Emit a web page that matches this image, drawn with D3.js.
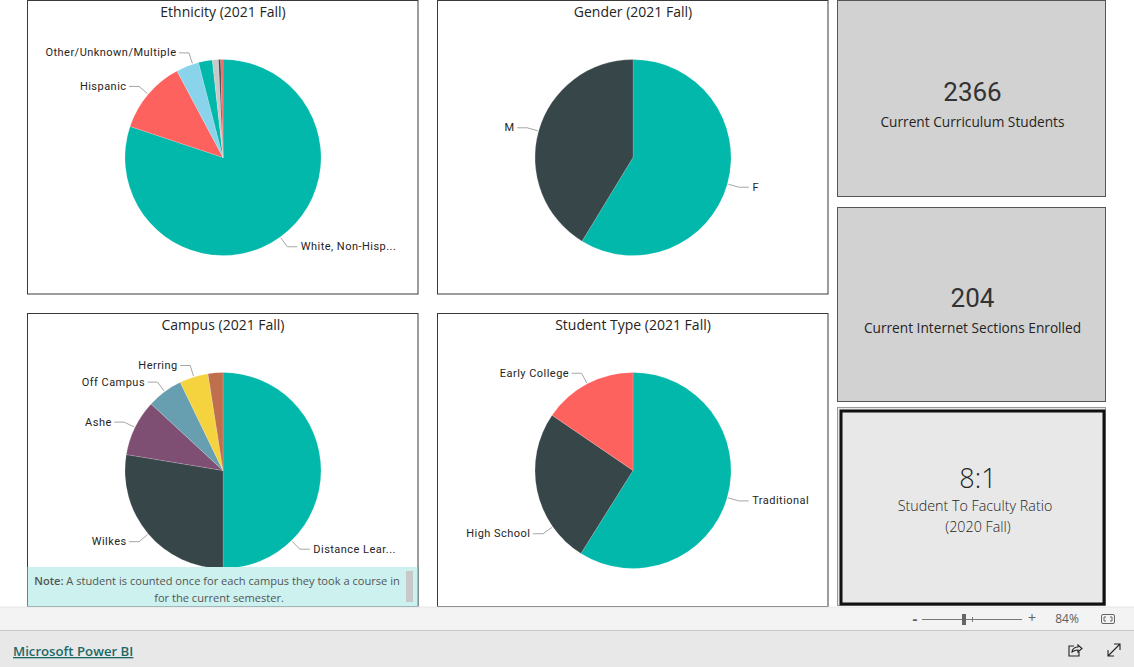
<!DOCTYPE html>
<html>
<head>
<meta charset="utf-8">
<script src="https://cdn.jsdelivr.net/npm/d3@7"></script>
<style>
  html, body { margin: 0; padding: 0; background: #fff; overflow: hidden; }
  svg { display: block; }
  .title { font: 14px "Open Sans", sans-serif; fill: #252423; text-anchor: middle; }
  .label { font: 11px Roboto, sans-serif; letter-spacing: 0.47px; fill: #252423; }
  .kpi-value { font: 26px Roboto, sans-serif; fill: #333; text-anchor: middle; }
  .kpi-name { font: 13.7px "Open Sans", sans-serif; fill: #252423; text-anchor: middle; }
  .ratio-value { font: 300 27px "Open Sans", sans-serif; fill: #252423; text-anchor: middle; }
  .ratio-name { font: 300 14.3px "Open Sans", sans-serif; fill: #252423; text-anchor: middle; }
  .note { font: 11.1px "Open Sans", sans-serif; fill: #555; text-anchor: middle; }
  .zoomtxt { font: 12px "Open Sans", sans-serif; fill: #605e5c; text-anchor: middle; }
  .brand { font: 600 13.2px "Open Sans", sans-serif; fill: #1b6a6a; text-decoration: underline; }
</style>
</head>
<body>
<svg id="report" width="1134" height="667"></svg>
<script>
// values, scaled to the 2366 headcount
const ethnicityLabels = ["White, Non-Hisp...", "Hispanic", "Other/Unknown/Multiple", "", "", "", ""];
const ethnicityValues = [1896, 286, 89, 54, 24, 8, 9];
const ethnicityColors = ["#01B8AA", "#FD625E", "#8AD4EB", "#01B8AA", "#C8C8C8", "#374649", "#FD625E"];

const genderLabels = ["F", "M"];
const genderValues = [1389, 977];
const genderColors = ["#01B8AA", "#374649"];

const campusLabels = ["Distance Lear...", "Wilkes", "Ashe", "Off Campus", "Herring", ""];
const campusValues = [1183, 653, 220, 140, 112, 58];
const campusColors = ["#01B8AA", "#374649", "#7F4F73", "#689FB0", "#F5D33F", "#BF6F4E"];

const typeLabels = ["Traditional", "High School", "Early College"];
const typeValues = [1394, 606, 366];
const typeColors = ["#01B8AA", "#374649", "#FD625E"];

const svg = d3.select("#report");
const RADIUS = 98;
const ELBOW = 110;

// some leaders sit away from the slice middle, in degrees
const leaderShift = { "Other/Unknown/Multiple": 3.2, "Distance Lear...": 45.7, "High School": -23.3 };

const addPanel = (props) => {
  const ctx = { ...props };
  const anchor = svg.append("g");

  anchor.append("rect")
    .attr("x", ctx.x + 0.5).attr("y", ctx.y + 0.5)
    .attr("width", ctx.width).attr("height", ctx.height)
    .attr("fill", "#fff").attr("stroke", "#3a3a3a").attr("stroke-width", 1);

  const cx = ctx.x + 196;
  const cy = ctx.cy;

  anchor.append("text").attr("class", "title")
    .attr("x", cx).attr("y", ctx.y + 17)
    .text(ctx.title);

  const rows = ctx.labels.map((label, i) => ({ label, value: ctx.values[i], color: ctx.colors[i] }));
  const pie = d3.pie().sort(null).value((d) => d.value);
  const arc = d3.arc().innerRadius(0).outerRadius(RADIUS);
  const arcs = pie(rows);

  const g = anchor.append("g").attr("transform", `translate(${cx},${cy})`);
  g.selectAll("path.slice").data(arcs).join("path")
    .attr("class", "slice")
    .attr("d", arc)
    .attr("fill", (d) => d.data.color)
    .attr("stroke", "#fff").attr("stroke-width", 0.25).attr("stroke-opacity", 0.6);

  const labelled = arcs.filter((d) => d.data.label !== "");
  labelled.forEach((d) => {
    const mid = (d.startAngle + d.endAngle) / 2 + ((leaderShift[d.data.label] || 0) * Math.PI) / 180;
    const sx = Math.sin(mid);
    const sy = -Math.cos(mid);
    const side = sx >= 0 ? 1 : -1;
    const ex = sx * ELBOW;
    const ey = sy * ELBOW;

    g.append("path")
      .attr("d", d3.line()([[sx * (RADIUS + 1), sy * (RADIUS + 1)], [ex, ey], [ex + side * 10, ey]]))
      .attr("fill", "none").attr("stroke", "#a6a6a6").attr("stroke-width", 1);

    g.append("text").attr("class", "label")
      .attr("x", ex + (side > 0 ? 13.5 : -12.5)).attr("y", ey + 0.5)
      .attr("dominant-baseline", "middle")
      .attr("text-anchor", side > 0 ? "start" : "end")
      .text(d.data.label);
  });
  return anchor;
};

addPanel({ x: 27, y: 0, width: 390.5, height: 293.5, cy: 157.5, title: "Ethnicity (2021 Fall)",
  labels: ethnicityLabels, values: ethnicityValues, colors: ethnicityColors });
addPanel({ x: 437, y: 0, width: 390.5, height: 293.5, cy: 157.5, title: "Gender (2021 Fall)",
  labels: genderLabels, values: genderValues, colors: genderColors });
addPanel({ x: 27, y: 313, width: 390.5, height: 293, cy: 470.5, title: "Campus (2021 Fall)",
  labels: campusLabels, values: campusValues, colors: campusColors });
addPanel({ x: 437, y: 313, width: 390.5, height: 293, cy: 470.5, title: "Student Type (2021 Fall)",
  labels: typeLabels, values: typeValues, colors: typeColors });

// note strip over the campus panel
svg.append("rect").attr("x", 28).attr("y", 567).attr("width", 390).attr("height", 39).attr("fill", "#CCF1EE");
svg.append("line").attr("x1", 27).attr("x2", 418).attr("y1", 606.5).attr("y2", 606.5).attr("stroke", "#5b8a88");
svg.append("line").attr("x1", 418).attr("x2", 418).attr("y1", 567).attr("y2", 606).attr("stroke", "#5b8a88");
svg.append("line").attr("x1", 27.5).attr("x2", 27.5).attr("y1", 567).attr("y2", 606).attr("stroke", "#5b8a88");
svg.append("rect").attr("x", 406).attr("y", 571).attr("width", 7).attr("height", 31).attr("fill", "#c8c8c8");
const note = svg.append("text").attr("class", "note").attr("x", 217).attr("y", 585);
note.append("tspan").attr("font-weight", 600).text("Note:");
note.append("tspan").text(" A student is counted once for each campus they took a course in");
svg.append("text").attr("class", "note").attr("x", 219).attr("y", 602).text("for the current semester.");

// KPI cards
const cards = [
  { y: 0, h: 196, value: "2366", name: "Current Curriculum Students", vy: 101, ny: 127 },
  { y: 207, h: 194, value: "204", name: "Current Internet Sections Enrolled", vy: 307, ny: 333 },
];
cards.forEach((c) => {
  svg.append("rect").attr("x", 837.5).attr("y", c.y + 0.5).attr("width", 268).attr("height", c.h)
    .attr("fill", "#D2D2D2").attr("stroke", "#555");
  svg.append("text").attr("class", "kpi-value").attr("x", 972.5).attr("y", c.vy).text(c.value);
  svg.append("text").attr("class", "kpi-name").attr("x", 972.5).attr("y", c.ny).text(c.name);
});

svg.append("rect").attr("x", 837.5).attr("y", 407.5).attr("width", 268).attr("height", 198)
  .attr("fill", "#E8E8E8").attr("stroke", "#999");
svg.append("rect").attr("x", 841).attr("y", 411).attr("width", 263).attr("height", 193)
  .attr("fill", "#E8E8E8").attr("stroke", "#111").attr("stroke-width", 3);
svg.append("text").attr("class", "ratio-value").attr("x", 978).attr("y", 488).text("8:1");
svg.append("text").attr("class", "ratio-name").attr("x", 975).attr("y", 511).text("Student To Faculty Ratio");
svg.append("text").attr("class", "ratio-name").attr("x", 978).attr("y", 532).text("(2020 Fall)");

// viewer chrome
svg.append("rect").attr("x", 0).attr("y", 607).attr("width", 1134).attr("height", 23).attr("fill", "#F3F3F3");
svg.append("rect").attr("x", 0).attr("y", 630).attr("width", 1134).attr("height", 37).attr("fill", "#E8E8E8");
svg.append("line").attr("x1", 0).attr("x2", 1134).attr("y1", 630.5).attr("y2", 630.5).attr("stroke", "#c8c8c8");
svg.append("line").attr("x1", 0).attr("x2", 1134).attr("y1", 607).attr("y2", 607).attr("stroke", "#e6e6e6");
svg.append("text").attr("class", "zoomtxt").attr("x", 915).attr("y", 624)
  .style("font-size", "15px").style("font-weight", 700).text("-");
svg.append("line").attr("x1", 922).attr("x2", 1022).attr("y1", 619.5).attr("y2", 619.5).attr("stroke", "#777");
svg.append("line").attr("x1", 972.5).attr("x2", 972.5).attr("y1", 617).attr("y2", 622).attr("stroke", "#777");
svg.append("rect").attr("x", 962).attr("y", 614).attr("width", 4).attr("height", 11).attr("fill", "#666");
svg.append("text").attr("class", "zoomtxt").attr("x", 1032).attr("y", 623).style("font-size", "14px").text("+");
svg.append("text").attr("class", "zoomtxt").attr("x", 1067).attr("y", 623).text("84%");
svg.append("rect").attr("x", 1101.5).attr("y", 614.5).attr("width", 13).attr("height", 9).attr("rx", 1.5)
  .attr("fill", "none").attr("stroke", "#666");
svg.append("path").attr("d", "M1106 617h-2v4h2M1110 617h2v4h-2")
  .attr("fill", "none").attr("stroke", "#666");
svg.append("text").attr("class", "brand").attr("x", 13).attr("y", 656).text("Microsoft Power BI");

// share and expand icons
svg.append("path").attr("d", "M1074 646h-5v10h10v-4M1072 652c0-3 3-5 6-5v-2l4 3.5-4 3.5v-2c-2 0-4 .5-6 2z")
  .attr("fill", "none").attr("stroke", "#222").attr("stroke-width", 1.1);
svg.append("path").attr("d", "M1108 656l12-12M1114 644h6v6M1108 650v6h6")
  .attr("fill", "none").attr("stroke", "#222").attr("stroke-width", 1.1);
</script>
</body>
</html>
